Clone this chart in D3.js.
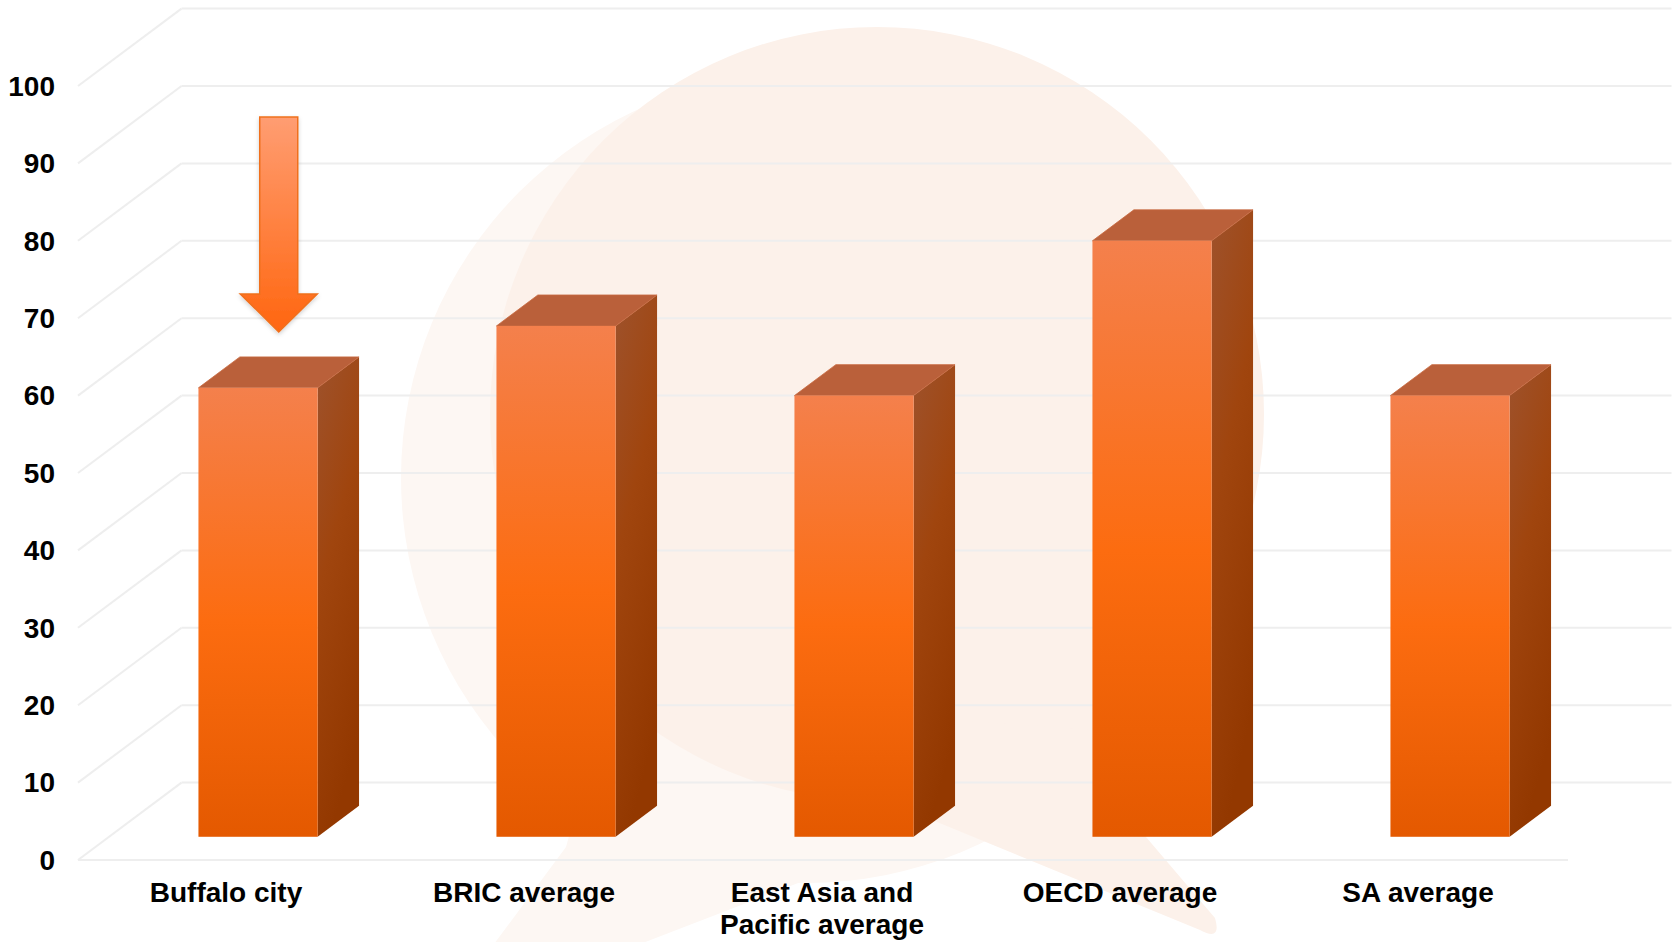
<!DOCTYPE html>
<html>
<head>
<meta charset="utf-8">
<script src="https://cdn.jsdelivr.net/npm/d3@7/dist/d3.min.js"></script>
<style>
  html, body { margin: 0; padding: 0; background: #ffffff; }
  svg { display: block; }
  text { font-family: "Liberation Sans", Arial, sans-serif; font-weight: bold; fill: #000; }
</style>
</head>
<body>
<script>
// ---- data ----
const categories = ["Buffalo city", "BRIC average", "East Asia and\nPacific average", "OECD average", "SA average"];
const values = [58, 66, 57, 77, 57];
const tickValues = [0, 10, 20, 30, 40, 50, 60, 70, 80, 90, 100];
const highlighted = "Buffalo city";

const W = 1675, H = 942;
const svg = d3.select("body").append("svg").attr("width", W).attr("height", H);
const defs = svg.append("defs");

// scales (front plane)
const x = d3.scaleBand().domain(categories).range([78, 1568]).paddingInner(0.6).paddingOuter(0.3);
const y = d3.scaleLinear().domain([0, 100]).range([860, 86]);
// depth vector of the 3D box
const DX = 103.5, DY = y(10) - y(0); // negative
const d0 = 0.3, d1 = 0.7; // bar depth fraction

// ---- watermark ----
const wm = svg.append("g");
wm.append("circle").attr("cx", 806).attr("cy", 478).attr("r", 405).attr("fill", "#fdf7f3");
wm.append("path").attr("d", "M590,760 L566,847 L471,975 L560,975 L917,837 L930,780 Z").attr("fill", "#fdf7f3");
wm.append("circle").attr("cx", 877).attr("cy", 414).attr("r", 387).attr("fill", "#fcf1ea");
wm.append("path").attr("d", "M640,700 L1200,930 Q1222,942 1215,918 L1146,837 L1100,730 Z").attr("fill", "#fcf1ea");

// ---- gridlines ----
const grid = svg.append("g").attr("stroke", "#eeeeee").attr("stroke-width", 2).attr("fill", "none");
const [r0, r1] = x.range();
tickValues.forEach(v => {
  grid.append("line").attr("x1", r0).attr("y1", y(v)).attr("x2", r0 + DX).attr("y2", y(v) + DY);
  grid.append("line").attr("x1", r0 + DX).attr("y1", y(v) + DY).attr("x2", r1 + DX).attr("y2", y(v) + DY);
});
grid.append("line").attr("x1", r0).attr("y1", y(0)).attr("x2", r1).attr("y2", y(0));

// tick labels
svg.append("g").selectAll("text").data(tickValues).join("text")
  .attr("x", 55).attr("y", d => y(d)).attr("dy", "0.35em")
  .attr("text-anchor", "end").attr("font-size", 28).text(d => d);

// ---- gradients ----
const gFront = defs.append("linearGradient").attr("id", "gFront").attr("x1", 0).attr("y1", 0).attr("x2", 0).attr("y2", 1);
gFront.append("stop").attr("offset", "0%").attr("stop-color", "#f4804c");
gFront.append("stop").attr("offset", "52%").attr("stop-color", "#fc6c10");
gFront.append("stop").attr("offset", "100%").attr("stop-color", "#e45900");
const gSide = defs.append("linearGradient").attr("id", "gSide").attr("x1", 0).attr("y1", 0).attr("x2", 0.3).attr("y2", 1);
gSide.append("stop").attr("offset", "0%").attr("stop-color", "#9e522c");
gSide.append("stop").attr("offset", "45%").attr("stop-color", "#a0450e");
gSide.append("stop").attr("offset", "100%").attr("stop-color", "#933800");

// ---- bars ----
const bw = x.bandwidth();
const bars = svg.append("g").selectAll("g").data(categories.map((c, i) => ({c, v: values[i]}))).join("g");
bars.each(function(d) {
  const g = d3.select(this);
  const xl = x(d.c) + d0 * DX, xr = xl + bw;
  const yb = y(0) + d0 * DY, yt = y(d.v) + d0 * DY;
  const ox = (d1 - d0) * DX, oy = (d1 - d0) * DY;
  // side
  g.append("path").attr("d", `M${xr},${yt} L${xr + ox},${yt + oy} L${xr + ox},${yb + oy} L${xr},${yb} Z`)
    .attr("fill", "url(#gSide)");
  // top
  g.append("path").attr("d", `M${xl},${yt} L${xl + ox},${yt + oy} L${xr + ox},${yt + oy} L${xr},${yt} Z`)
    .attr("fill", "#ba603a").attr("stroke", "#c86a40").attr("stroke-width", 0.8);
  // front
  g.append("rect").attr("x", xl).attr("y", yt).attr("width", bw).attr("height", yb - yt)
    .attr("fill", "url(#gFront)");
});

// ---- arrow annotation ----
const gArrow = defs.append("linearGradient").attr("id", "gArrow").attr("x1", 0).attr("y1", 0).attr("x2", 0).attr("y2", 1);
gArrow.append("stop").attr("offset", "0%").attr("stop-color", "#ff9d72");
gArrow.append("stop").attr("offset", "100%").attr("stop-color", "#ff6610");
const filt = defs.append("filter").attr("id", "sh").attr("x", "-20%").attr("y", "-20%").attr("width", "140%").attr("height", "140%");
filt.append("feDropShadow").attr("dx", 0).attr("dy", 2).attr("stdDeviation", 2).attr("flood-color", "#000").attr("flood-opacity", 0.18);
{
  const hv = values[categories.indexOf(highlighted)];
  const xl = x(highlighted) + d0 * DX;
  const cx = xl + (bw + (d1 - d0) * DX) / 2;
  const tip = y(hv) + d1 * DY - 25;
  const headH = 38, shaftLen = 177, sw = 19, hw = 38.5;
  const top = tip - headH - shaftLen, sb = tip - headH;
  svg.append("path")
    .attr("d", `M${cx - sw},${top} L${cx + sw},${top} L${cx + sw},${sb} L${cx + hw},${sb} L${cx},${tip} L${cx - hw},${sb} L${cx - sw},${sb} Z`)
    .attr("fill", "url(#gArrow)").attr("stroke", "#f0701e").attr("stroke-width", 1.5)
    .attr("filter", "url(#sh)");
}

// ---- category labels ----
svg.append("g").selectAll("text").data(categories).join("text")
  .attr("x", d => x(d) + bw / 2 - 1).attr("y", 902)
  .attr("text-anchor", "middle").attr("font-size", 28)
  .each(function(d) {
    const t = d3.select(this);
    d.split("\n").forEach((line, i) => {
      t.append("tspan").attr("x", x(d) + bw / 2 - 1).attr("dy", i === 0 ? 0 : 32).text(line);
    });
  });
</script>
</body>
</html>
